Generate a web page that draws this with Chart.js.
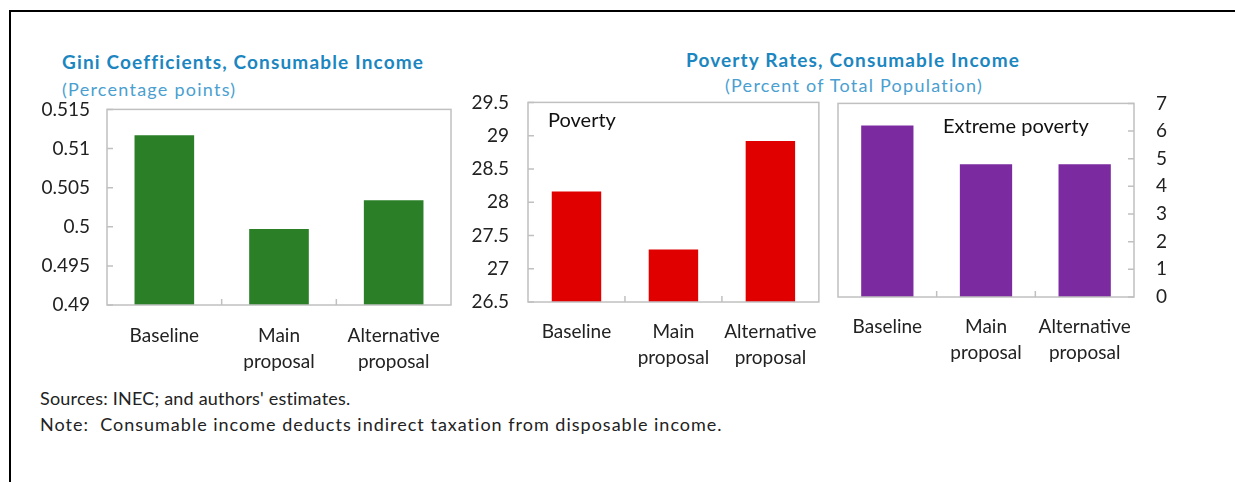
<!DOCTYPE html>
<html>
<head>
<meta charset="utf-8">
<script src="https://cdn.jsdelivr.net/npm/chart.js@4/dist/chart.umd.min.js"></script>
<style>
body{margin:0;background:#fff;font-family:Lato,"Noto Sans",sans-serif;}
#page{position:relative;width:1235px;height:482px;overflow:hidden;}
#box{position:absolute;left:9px;top:10px;width:1240px;height:500px;border:2px solid #000;box-sizing:border-box;}
canvas{position:absolute;}
.t{position:absolute;white-space:nowrap;line-height:1;}
.title{color:#1b86bf;font-weight:bold;font-size:19px;letter-spacing:1.15px;}
.sub{color:#4a9fd0;font-size:18px;letter-spacing:1.25px;}
.lab{color:#111;font-size:20px;}
.note{color:#222;font-size:18px;}
</style>
</head>
<body>
<div id="page">
<div id="box"></div>
<div class="t title" style="left:62px;top:52px;">Gini Coefficients, Consumable Income</div>
<div class="t sub" style="left:62px;top:80px;">(Percentage points)</div>
<div class="t title" style="left:853px;top:50px;transform:translateX(-50%);">Poverty Rates, Consumable Income</div>
<div class="t sub" style="left:854px;top:76px;transform:translateX(-50%);">(Percent of Total Population)</div>
<canvas id="gini" width="420" height="299" style="left:40px;top:81px;"></canvas>
<canvas id="pov" width="365" height="308" style="left:470px;top:72px;"></canvas>
<canvas id="ext" width="360" height="310" style="left:830px;top:70px;"></canvas>
<div class="t lab" style="left:548px;top:109px;">Poverty</div>
<div class="t lab" style="left:943px;top:115px;">Extreme poverty</div>
<div class="t note" style="left:40px;top:389px;letter-spacing:0.2px;">Sources: INEC; and authors' estimates.</div>
<div class="t note" style="left:40px;top:415px;letter-spacing:1px;">Note:&nbsp;&nbsp;Consumable income deducts indirect taxation from disposable income.</div>
</div>
<script>
const categories = [["Baseline"], ["Main", "proposal"], ["Alternative", "proposal"]];
const giniValues = [0.5117, 0.4997, 0.5034];
const povertyValues = [28.16, 27.29, 28.92];
const extremeValues = [6.2, 4.8, 4.8];

const fontFam = "Lato, 'Noto Sans', sans-serif";

// grey frame round the plot area plus the small inward tick marks
const framePlugin = {
  id: "frame",
  afterDatasetsDraw(chart) {
    const ctx = chart.ctx, a = chart.chartArea;
    const y = chart.scales.y, x = chart.scales.x;
    ctx.save();
    ctx.strokeStyle = "#c0c0c0";
    ctx.lineWidth = 1.5;
    ctx.strokeRect(a.left, a.top, a.width, a.height);
    ctx.beginPath();
    const side = y.position === "right" ? -1 : 1;
    const x0 = side === 1 ? a.left : a.right;
    y.ticks.forEach((t, i) => {
      const py = y.getPixelForTick(i);
      ctx.moveTo(x0, py);
      ctx.lineTo(x0 + side * 6, py);
    });
    for (let i = 0; i < x.ticks.length - 1; i++) {
      const px = (x.getPixelForTick(i) + x.getPixelForTick(i + 1)) / 2;
      ctx.moveTo(px, a.bottom);
      ctx.lineTo(px, a.bottom - 6);
    }
    ctx.stroke();
    ctx.restore();
  }
};

function fmt(v) { return String(Number(v.toFixed(3))); }

function makeBar(id, values, color, yopt) {
  new Chart(document.getElementById(id), {
    type: "bar",
    data: {
      labels: categories,
      datasets: [{
        data: values,
        backgroundColor: color,
        borderWidth: 0,
        barPercentage: yopt.barPct,
        categoryPercentage: 1
      }]
    },
    options: {
      responsive: false,
      animation: false,
      layout: { padding: yopt.pad },
      plugins: { legend: { display: false }, tooltip: { enabled: false } },
      scales: {
        x: {
          grid: { display: false, drawTicks: false },
          border: { display: false },
          ticks: {
            color: "#222",
            padding: yopt.xPad,
            maxRotation: 0,
            autoSkip: false,
            font: { family: fontFam, size: 19, lineHeight: 1.37 }
          },
          afterFit: s => { s.height = yopt.xH; }
        },
        y: {
          position: yopt.position,
          min: yopt.min,
          max: yopt.max,
          grid: { display: false, drawTicks: false },
          border: { display: false },
          ticks: {
            stepSize: yopt.step,
            color: "#222",
            padding: yopt.yPad,
            font: { family: fontFam, size: 19 },
            callback: v => fmt(v)
          },
          afterFit: s => { s.width = yopt.yW; }
        }
      }
    },
    plugins: [framePlugin]
  });
}

makeBar("gini", giniValues, "#2a7f27", {
  min: 0.49, max: 0.515, step: 0.005, position: "left",
  pad: { top: 7, right: 9, left: 0, bottom: 0 },
  yW: 67, yPad: 17, xH: 75, xPad: 18, barPct: 0.52
});
makeBar("pov", povertyValues, "#e00000", {
  min: 26.5, max: 29.5, step: 0.5, position: "left",
  pad: { top: 6, right: 9, left: 0, bottom: 0 },
  yW: 58, yPad: 19, xH: 78, xPad: 17, barPct: 0.51
});
makeBar("ext", extremeValues, "#7b2aa0", {
  min: 0, max: 7, step: 1, position: "right",
  pad: { top: 6, right: 0, left: 8, bottom: 0 },
  yW: 56, yPad: 22, xH: 83, xPad: 17, barPct: 0.53
});
</script>
</body>
</html>
